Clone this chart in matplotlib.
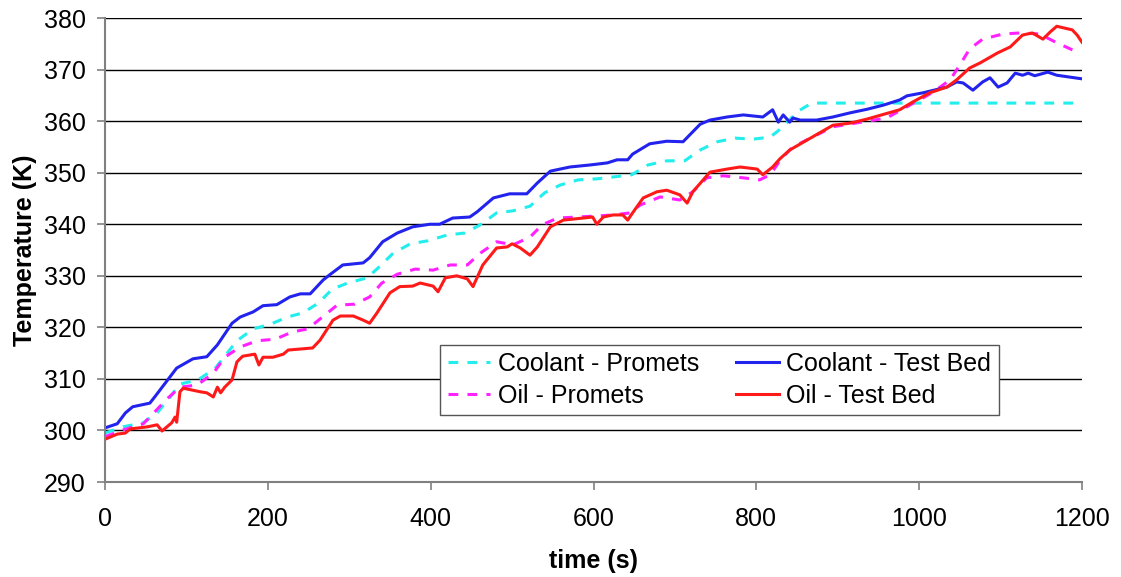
import matplotlib
matplotlib.use('Agg')
import matplotlib.pyplot as plt

# data (time in s, temperature in K)
coolant_bed_t = [0, 15, 25, 34, 55, 61, 88, 108, 125, 138, 156, 166, 182, 194, 211, 227, 240, 252,
                 268, 276, 292, 317, 325, 341, 359, 378, 399, 411, 427, 448, 457, 477, 497, 518,
                 531, 547, 571, 596, 617, 629, 642, 648, 669, 690, 710, 731, 743, 764, 784, 808,
                 820, 827, 833, 841, 845, 854, 874, 894, 915, 936, 956, 976, 985, 1005, 1034,
                 1046, 1054, 1066, 1078, 1087, 1097, 1108, 1118, 1127, 1134, 1142, 1158, 1169, 1200]
coolant_bed_T = [300.5, 301.3, 303.4, 304.6, 305.3, 306.5, 312.1, 313.9, 314.3, 316.6, 320.8, 322.0,
                 323.0, 324.2, 324.4, 325.9, 326.5, 326.5, 329.2, 330.2, 332.1, 332.5, 333.5, 336.6,
                 338.3, 339.5, 340.0, 340.0, 341.2, 341.4, 342.4, 345.1, 345.9, 345.9, 348.0, 350.3,
                 351.1, 351.5, 351.9, 352.5, 352.5, 353.6, 355.6, 356.1, 356.0, 359.4, 360.2, 360.8,
                 361.2, 360.8, 362.2, 359.8, 361.2, 359.8, 360.6, 360.2, 360.2, 360.8, 361.6, 362.3,
                 363.1, 364.1, 364.9, 365.5, 366.6, 367.6, 367.4, 366.0, 367.6, 368.4, 366.6, 367.4,
                 369.3, 368.9, 369.3, 368.8, 369.5, 368.9, 368.2]

coolant_pro_t = [0, 22, 47, 64, 80, 92, 114, 135, 150, 162, 182, 203, 224, 243, 262, 279, 298, 322,
                 338, 354, 375, 397, 420, 442, 461, 481, 501, 522, 540, 559, 581, 604, 626, 647,
                 667, 690, 712, 731, 752, 774, 796, 817, 833, 850, 868, 1200]
coolant_pro_T = [299.5, 300.7, 301.5, 303.4, 306.5, 309.0, 309.8, 312.0, 315.0, 317.4, 319.7, 320.6,
                 322.0, 322.8, 324.7, 327.4, 328.6, 329.6, 331.9, 334.4, 336.2, 336.8, 337.9, 338.3,
                 339.9, 342.2, 342.6, 343.5, 346.1, 347.6, 348.6, 348.8, 349.2, 349.6, 351.5, 352.3,
                 352.3, 354.4, 356.0, 356.7, 356.5, 356.9, 358.9, 361.8, 363.5, 363.5]

oil_pro_t = [0, 22, 47, 61, 76, 92, 113, 133, 147, 166, 187, 209, 230, 249, 267, 285, 307, 325, 340,
             359, 381, 403, 424, 445, 461, 481, 501, 522, 537, 556, 580, 604, 624, 645, 657, 682,
             706, 722, 739, 759, 784, 804, 817, 831, 845, 894, 960, 1017, 1038, 1050, 1062, 1078,
             1103, 1124, 1148, 1169, 1194]
oil_pro_T = [298.8, 300.1, 301.3, 303.6, 306.1, 308.4, 308.8, 311.1, 314.2, 316.2, 317.4, 317.7,
             319.1, 319.7, 322.0, 324.3, 324.5, 325.9, 328.6, 330.3, 331.3, 331.1, 332.1, 332.1,
             334.4, 336.6, 336.0, 337.5, 339.9, 341.2, 341.4, 341.6, 341.8, 342.2, 343.7, 345.3,
             344.7, 346.3, 349.0, 349.4, 349.0, 348.6, 349.6, 352.8, 355.0, 358.9, 360.6, 365.6,
             368.0, 370.9, 374.0, 375.9, 376.9, 377.1, 376.9, 375.2, 373.4]

oil_bed_t = [0, 15, 25, 31, 52, 64, 70, 76, 82, 86, 88, 92, 96, 117, 125, 133, 138, 142, 147, 156,
             162, 169, 184, 189, 194, 206, 219, 225, 240, 255, 264, 280, 289, 305, 317, 325, 334,
             350, 362, 378, 387, 403, 409, 418, 432, 445, 452, 464, 481, 494, 500, 510, 522, 531,
             547, 563, 587, 599, 604, 612, 624, 636, 642, 648, 661, 678, 690, 706, 715, 722, 743,
             764, 780, 801, 808, 820, 829, 841, 862, 894, 915, 936, 976, 992, 1013, 1034, 1046,
             1062, 1075, 1096, 1112, 1127, 1139, 1152, 1161, 1169, 1177, 1188, 1194, 1200]
oil_bed_T = [298.3, 299.3, 299.5, 300.3, 300.7, 301.1, 299.9, 300.7, 301.5, 302.6, 301.6, 307.5,
             308.2, 307.5, 307.3, 306.5, 308.4, 307.3, 308.4, 309.8, 313.3, 314.4, 314.8, 312.7,
             314.2, 314.2, 314.8, 315.6, 315.8, 316.0, 317.5, 321.4, 322.2, 322.2, 321.4, 320.8,
             322.8, 326.7, 327.9, 328.0, 328.6, 328.0, 326.9, 329.6, 330.0, 329.4, 327.9, 332.1,
             335.4, 335.6, 336.2, 335.4, 334.0, 335.6, 339.5, 340.8, 341.2, 341.4, 340.0, 341.4,
             341.8, 341.8, 340.8, 342.2, 345.1, 346.3, 346.6, 345.7, 344.1, 346.3, 350.1, 350.7,
             351.1, 350.7, 349.6, 351.1, 352.7, 354.4, 356.3, 359.2, 359.6, 360.4, 362.2, 363.7,
             365.5, 366.6, 368.0, 370.3, 371.3, 373.2, 374.4, 376.7, 377.1, 375.9, 377.3, 378.4,
             378.1, 377.7, 376.7, 375.3]

y_ticks = [290, 300, 310, 320, 330, 340, 350, 360, 370, 380]
x_ticks = [0, 200, 400, 600, 800, 1000, 1200]

plt.rcParams['font.family'] = ['Liberation Sans', 'DejaVu Sans']

fig = plt.figure(figsize=(11.21, 5.77), dpi=100)
ax = fig.add_axes([0.0937, 0.1646, 0.8715, 0.8042])

dash = (0, (3.2, 3.0))
l1, = ax.plot(coolant_pro_t, coolant_pro_T, color='#22eeee', lw=2.2, linestyle=dash, label='Coolant - Promets')
l3, = ax.plot(oil_pro_t, oil_pro_T, color='#ff22ff', lw=2.2, linestyle=dash, label='Oil - Promets')
l2, = ax.plot(coolant_bed_t, coolant_bed_T, color='#2323ee', lw=2.2, label='Coolant - Test Bed')
l4, = ax.plot(oil_bed_t, oil_bed_T, color='#ff1a1a', lw=2.2, label='Oil - Test Bed')

ax.set_xlim(0, 1200)
ax.set_ylim(290, 380)
ax.set_xticks(x_ticks)
ax.set_yticks(y_ticks)
ax.yaxis.grid(True, color='black', lw=1.0)
ax.set_axisbelow(True)
for s in ['top', 'right']:
    ax.spines[s].set_visible(False)
for s in ['left', 'bottom']:
    ax.spines[s].set_color('#808080')
    ax.spines[s].set_linewidth(1.5)
ax.tick_params(direction='out', length=6, width=1.2, color='#808080', labelsize=18)
ax.tick_params(axis='y', pad=8)
ax.tick_params(axis='x', pad=12)

ax.set_xlabel('time (s)', fontsize=18, fontweight='bold', labelpad=13)
ax.set_ylabel('Temperature (K)', fontsize=18, fontweight='bold', labelpad=5)

leg = ax.legend(handles=[l1, l3, l2, l4], ncol=2, loc='lower left', bbox_to_anchor=(0.343, 0.144),
                borderaxespad=0, fontsize=18, frameon=True, fancybox=False, edgecolor='#555555',
                framealpha=1, handlelength=1.7, handletextpad=0.3, columnspacing=1.5,
                borderpad=0.3, labelspacing=0.3)
leg.get_frame().set_linewidth(1.0)

fig.savefig('out.png', dpi=100)
